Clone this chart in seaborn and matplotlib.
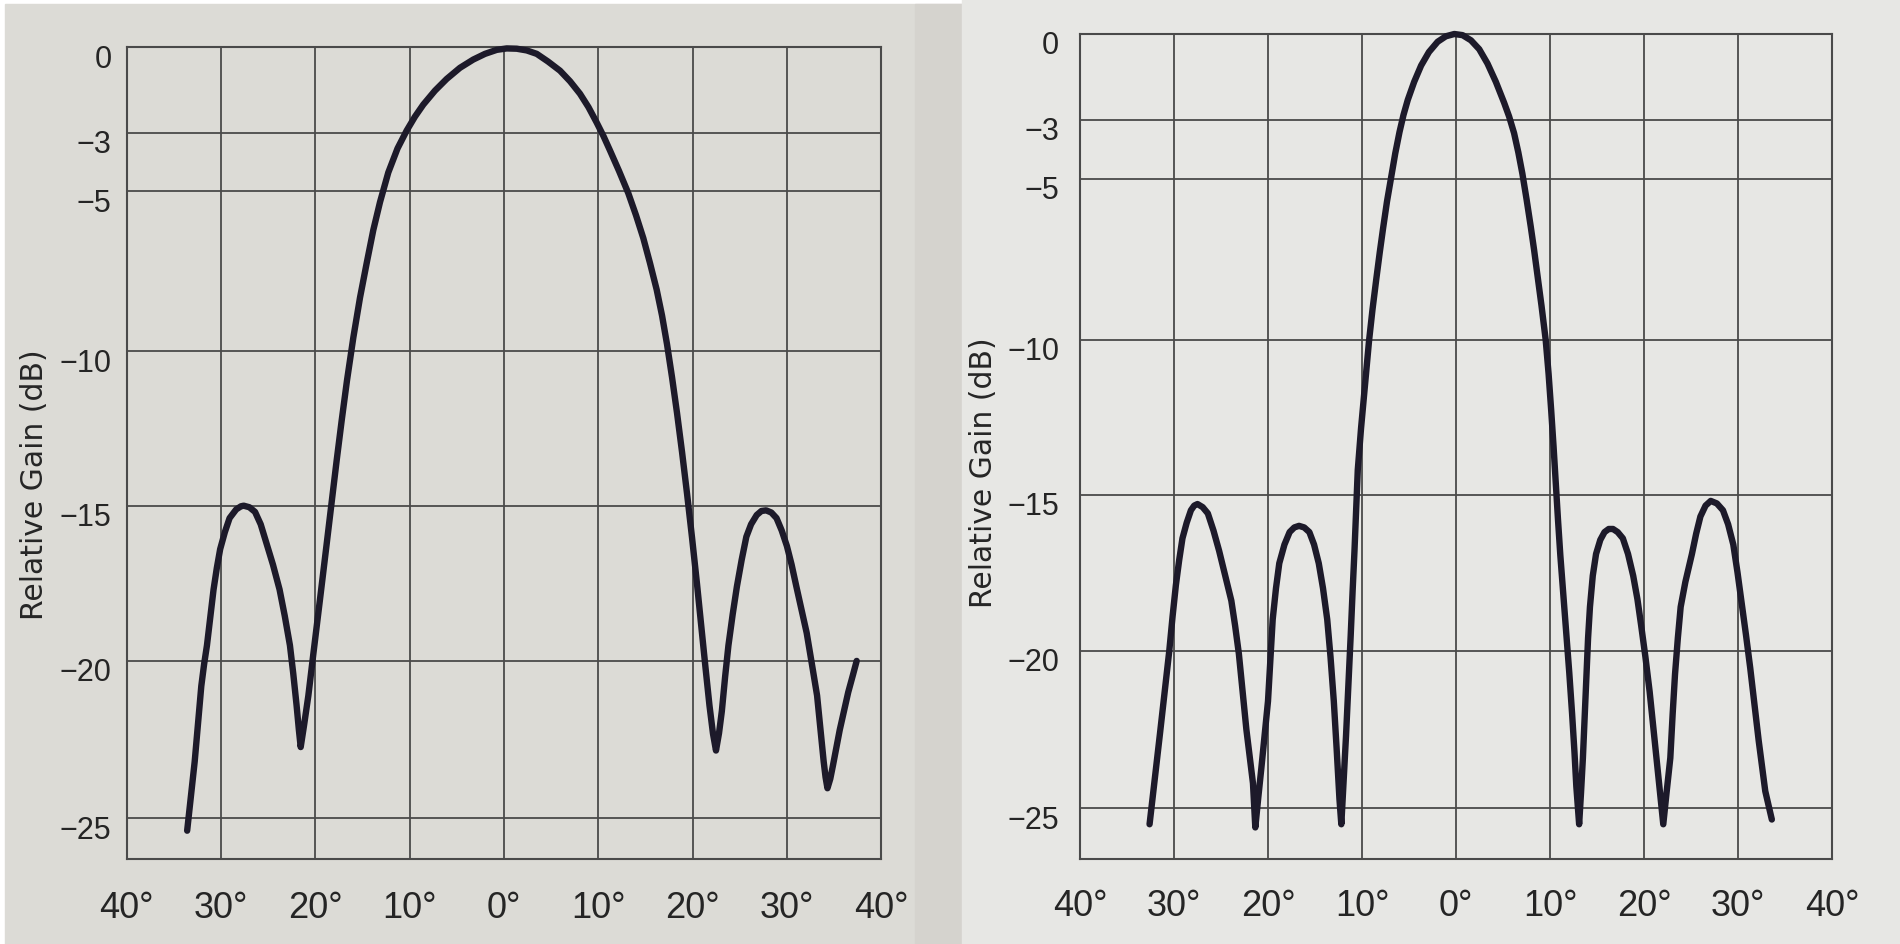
import numpy as np
import pandas as pd
import matplotlib
matplotlib.use("Agg")
import matplotlib.pyplot as plt
import matplotlib.transforms as mtransforms
from matplotlib.patches import Rectangle
import seaborn as sns

# ---------------- data ----------------
X_TICKS = [-40, -30, -20, -10, 0, 10, 20, 30, 40]
X_LABELS = ["40°", "30°", "20°", "10°", "0°", "10°", "20°", "30°", "40°"]
Y_TICKS = [0, -3, -5, -10, -15, -20, -25]
Y_LABELS = ["0", "\u22123", "\u22125", "\u221210", "\u221215", "\u221220", "\u221225"]
Y_TITLE = "Relative Gain (dB)"

# (angle in degrees, relative gain in dB)
left_points = [
    (-33.6, -25.4), (-33.2, -24.3), (-32.8, -23.2), (-32.45, -22.0), (-32.1, -20.8),
    (-31.8, -20.1), (-31.5, -19.5), (-31.15, -18.6), (-30.8, -17.7), (-30.45, -17.0),
    (-30.1, -16.4), (-29.6, -15.85), (-29.1, -15.4), (-28.4, -15.12), (-27.9, -15.02),
    (-27.6, -15.0), (-27.0, -15.05), (-26.4, -15.2), (-25.8, -15.6), (-25.2, -16.2),
    (-24.5, -16.9), (-23.8, -17.7), (-23.25, -18.55), (-22.7, -19.5), (-22.35, -20.4),
    (-22.0, -21.4), (-21.75, -22.2), (-21.56, -22.74), (-21.21, -22.06), (-20.75, -21.11),
    (-20.22, -19.78), (-19.51, -18.01), (-18.8, -16.22), (-18.27, -14.87), (-17.74, -13.52),
    (-17.21, -12.23), (-16.65, -10.94), (-15.98, -9.57), (-15.27, -8.32), (-14.56, -7.24),
    (-13.86, -6.21), (-13.15, -5.34), (-12.27, -4.36), (-11.29, -3.54), (-10.32, -2.93),
    (-9.44, -2.44), (-8.56, -2.02), (-7.32, -1.53), (-6.08, -1.12), (-4.67, -0.73),
    (-3.26, -0.44), (-2.01, -0.24), (-0.77, -0.10), (0.29, -0.05), (1.35, -0.06),
    (2.41, -0.12), (3.47, -0.24), (4.67, -0.51), (5.94, -0.83), (7.0, -1.2),
    (8.06, -1.64), (8.96, -2.11), (9.83, -2.65), (10.55, -3.12), (11.24, -3.61),
    (12.2, -4.31), (13.18, -5.06), (14.0, -5.75), (14.77, -6.46), (15.48, -7.24),
    (16.19, -8.07), (16.76, -8.88), (17.29, -9.78), (17.82, -10.84), (18.35, -12.0),
    (18.88, -13.26), (19.41, -14.61), (19.94, -16.03), (20.47, -17.53), (20.94, -18.94),
    (21.37, -20.22), (21.79, -21.42), (22.16, -22.31), (22.48, -22.85), (22.8, -22.3),
    (23.1, -21.6), (23.45, -20.5), (23.8, -19.5), (24.25, -18.5), (24.7, -17.6),
    (25.2, -16.75), (25.7, -16.0), (26.2, -15.6), (26.8, -15.3), (27.3, -15.17),
    (27.8, -15.15), (28.35, -15.22), (28.9, -15.4), (29.45, -15.8), (30.0, -16.3),
    (30.5, -16.9), (31.0, -17.6), (31.55, -18.35), (32.1, -19.1), (32.65, -20.1),
    (33.2, -21.1), (33.55, -22.15), (33.9, -23.2), (34.1, -23.7), (34.3, -24.05),
    (34.6, -23.75), (34.9, -23.3), (35.25, -22.75), (35.6, -22.2), (36.05, -21.6),
    (36.5, -21.0), (37.0, -20.45), (37.4, -20.0),
]

right_points = [
    (-32.6, -25.5), (-32.25, -24.6), (-31.9, -23.7), (-31.5, -22.65), (-31.1, -21.6),
    (-30.8, -20.8), (-30.5, -20.0), (-30.15, -18.9), (-29.8, -17.9), (-29.45, -17.1),
    (-29.1, -16.4), (-28.65, -15.9), (-28.2, -15.5), (-27.85, -15.35), (-27.5, -15.3),
    (-26.95, -15.4), (-26.4, -15.6), (-25.8, -16.15), (-25.2, -16.8), (-24.55, -17.6),
    (-23.9, -18.4), (-23.5, -19.2), (-23.1, -20.1), (-22.7, -21.3), (-22.3, -22.5),
    (-21.95, -23.35), (-21.6, -24.2), (-21.35, -25.6), (-21.05, -24.7), (-20.7, -23.7),
    (-20.35, -22.65), (-20.0, -21.6), (-19.75, -20.3), (-19.5, -19.0), (-19.15, -18.0),
    (-18.8, -17.2), (-18.25, -16.6), (-17.7, -16.2), (-17.2, -16.05), (-16.7, -16.0),
    (-16.15, -16.05), (-15.6, -16.2), (-15.1, -16.6), (-14.6, -17.2), (-14.15, -18.0),
    (-13.7, -19.0), (-13.35, -20.2), (-13.0, -21.6), (-12.7, -23.1), (-12.4, -24.7),
    (-12.2, -25.5), (-11.95, -24.1), (-11.7, -22.7), (-11.45, -21.1), (-11.2, -19.5),
    (-11.0, -18.1), (-10.8, -16.8), (-10.62, -15.5), (-10.45, -14.2), (-10.1, -12.85),
    (-9.65, -11.35), (-9.25, -10.03), (-8.88, -9.05), (-8.47, -8.09), (-8.11, -7.28),
    (-7.76, -6.54), (-7.34, -5.70), (-6.89, -4.92), (-6.46, -4.13), (-6.01, -3.41),
    (-5.59, -2.83), (-5.13, -2.30), (-4.45, -1.67), (-3.71, -1.10), (-2.88, -0.63),
    (-1.95, -0.27), (-1.08, -0.08), (-0.18, 0.0), (0.70, -0.04), (1.59, -0.22),
    (2.47, -0.53), (3.35, -1.03), (4.24, -1.67), (5.12, -2.4), (5.65, -2.88),
    (6.18, -3.45), (6.63, -4.10), (7.06, -4.82), (7.51, -5.64), (7.95, -6.48),
    (8.30, -7.19), (8.65, -7.96), (9.10, -8.95), (9.54, -10.0), (9.85, -11.1),
    (10.12, -12.25), (10.38, -13.45), (10.62, -14.65), (10.85, -15.8), (11.1, -16.95),
    (11.4, -18.15), (11.72, -19.4), (12.05, -20.7), (12.35, -22.0), (12.6, -23.2),
    (12.8, -24.3), (12.97, -25.0), (13.1, -25.5), (13.3, -24.5), (13.5, -23.4),
    (13.7, -22.0), (13.88, -20.75), (14.05, -19.6), (14.25, -18.6), (14.55, -17.6),
    (14.9, -16.9), (15.35, -16.45), (15.8, -16.2), (16.25, -16.1), (16.7, -16.1),
    (17.2, -16.2), (17.75, -16.4), (18.3, -16.9), (18.85, -17.6), (19.3, -18.35),
    (19.7, -19.2), (20.15, -20.2), (20.6, -21.3), (21.05, -22.6), (21.5, -23.9),
    (21.8, -24.8), (22.05, -25.5), (22.4, -24.5), (22.8, -23.4), (23.05, -22.0),
    (23.3, -20.75), (23.6, -19.6), (23.9, -18.6), (24.4, -17.8), (25.1, -16.9),
    (25.55, -16.25), (26.0, -15.7), (26.55, -15.35), (27.1, -15.2), (27.75, -15.28),
    (28.4, -15.5), (28.95, -15.95), (29.5, -16.6), (29.95, -17.5), (30.4, -18.5),
    (30.85, -19.5), (31.3, -20.55), (31.75, -21.7), (32.2, -22.85), (32.55, -23.65),
    (32.9, -24.45), (33.25, -24.9), (33.6, -25.35),
]

# ---------------- style ----------------
CURVE = "#1d1a2a"
GRID = "#4a4a4a"
TEXT = "#252525"

# the printed dB grid is not evenly spaced: a piecewise scale
_KNOT_DB = np.array([-30.0, -25, -20, -15, -10, -5, -3, 0, 5])
_KNOT_POS = -np.array([933.0, 775, 617, 461, 306, 145, 86, 0, -145])


def _fwd(y):
    return np.interp(y, _KNOT_DB, _KNOT_POS)


def _inv(v):
    return np.interp(v, _KNOT_POS, _KNOT_DB)


sns.set_theme(style="white")
plt.rcParams["font.family"] = ["Liberation Sans", "DejaVu Sans"]

W, H = 1900, 945
fig = plt.figure(figsize=(W / 100, H / 100), dpi=100, facecolor="white")

# photo backgrounds
fig.patches.append(Rectangle((5 / W, 0), (962 - 5) / W, (H - 5) / H,
                             transform=fig.transFigure, color="#dcdbd6", zorder=-10))
fig.patches.append(Rectangle((915 / W, 0), 47 / W, (H - 5) / H,
                             transform=fig.transFigure, color="#d5d3ce", zorder=-9))
fig.patches.append(Rectangle((962 / W, 0), (W - 962) / W, 1,
                             transform=fig.transFigure, color="#e7e7e4", zorder=-8))

panels = [
    dict(points=left_points,
         rect=[126.8 / W, 85 / H, 754.4 / W, 812 / H], ybot=-26.3,
         lab=(-0.123, 0.462), ypad=11, xpad=22),
    dict(points=right_points,
         rect=[1080 / W, 85 / H, 752 / W, 825 / H], ybot=-26.6,
         lab=(-0.128, 0.47), ypad=15, xpad=21),
]

for p in panels:
    ax = fig.add_axes(p["rect"])
    ax.set_facecolor("none")
    df = pd.DataFrame(p["points"], columns=["angle", "gain"])
    sns.lineplot(data=df, x="angle", y="gain", ax=ax, color=CURVE,
                 linewidth=4.6, estimator=None, sort=False)
    for ln in ax.lines:
        ln.set_solid_capstyle("round")
        ln.set_solid_joinstyle("round")
        ln.set_clip_on(False)
        ln.set_zorder(5)

    ax.set_yscale("function", functions=(_fwd, _inv))
    ax.set_xlim(-40, 40)
    ax.set_ylim(p["ybot"], 0)
    ax.set_xticks(X_TICKS)
    ax.set_xticklabels(X_LABELS)
    ax.set_yticks(Y_TICKS)
    ax.set_yticklabels(Y_LABELS)
    ax.minorticks_off()
    ax.grid(True, color=GRID, linewidth=1.3)
    for s in ax.spines.values():
        s.set_visible(True)
        s.set_color(GRID)
        s.set_linewidth(1.5)
    ax.tick_params(axis="x", length=0, pad=p["xpad"], labelsize=26, labelcolor=TEXT)
    ax.tick_params(axis="y", length=0, pad=p["ypad"], labelsize=22, labelcolor=TEXT)
    off = mtransforms.ScaledTranslation(0, -8 / 100, fig.dpi_scale_trans)
    for lbl in ax.get_yticklabels():
        lbl.set_transform(lbl.get_transform() + off)

    ax.set_xlabel("")
    ax.set_ylabel(Y_TITLE, fontsize=21.5, color=TEXT, family=["DejaVu Sans"])
    ax.yaxis.set_label_coords(*p["lab"])
    ax.yaxis.label.set_va("center")

fig.savefig("out.png", dpi=100, facecolor=fig.get_facecolor())
